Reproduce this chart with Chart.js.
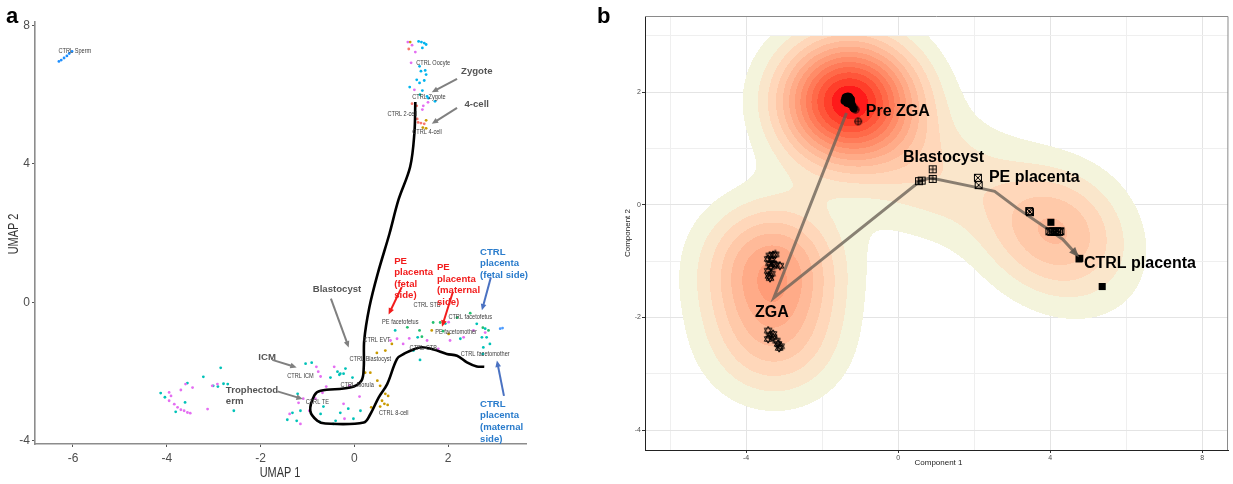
<!DOCTYPE html>
<html>
<head>
<meta charset="utf-8">
<script src="https://cdn.jsdelivr.net/npm/chart.js@4.4.0/dist/chart.umd.min.js"></script>
<style>
  body { margin:0; background:#fff; width:1233px; height:484px; overflow:hidden; position:relative; }
  #ca { position:absolute; left:0; top:0; }
  #cb { position:absolute; left:595px; top:0; }
  .tag { position:absolute; font:bold 22px 'Liberation Sans', Arial, sans-serif; line-height:22px; color:#000; }
</style>
</head>
<body>
<canvas id="ca" width="600" height="484"></canvas>
<canvas id="cb" width="638" height="484"></canvas>
<div class="tag" style="left:6px;top:5px">a</div>
<div class="tag" style="left:597px;top:5px">b</div>
<script>
// ---------- panel a : UMAP ----------
const xTicksA = [-6, -4, -2, 0, 2];
const yTicksA = [-4, 0, 4, 8];

const spermPts = [[-6.30,6.96],[-6.25,7.00],[-6.19,7.06],[-6.13,7.12],[-6.08,7.19],[-6.02,7.25]];
const cyanPts = [[1.37,7.54],[1.43,7.52],[1.49,7.49],[1.53,7.45],[1.45,7.35],[1.39,6.82],[1.42,6.68],[1.51,6.70],
  [1.53,6.58],[1.33,6.43],[1.39,6.34],[1.49,6.41],[1.18,6.22],[1.55,5.95],[1.58,5.90],[1.72,5.81],[1.45,6.12]];
const magentaPts = [[1.14,7.52],[1.23,7.43],[1.30,7.23],[1.21,6.92],[1.28,6.14],[1.47,5.68],[1.57,5.78],[1.45,5.57],
  [-3.95,-2.60],[-3.91,-2.70],[-3.95,-2.84],[-3.84,-2.94],[-3.77,-3.03],[-3.70,-3.10],[-3.63,-3.13],[-3.56,-3.18],
  [-3.50,-3.20],[-3.70,-2.53],[-3.60,-2.36],[-3.45,-2.46],[-3.13,-3.08],[-3.03,-2.41],[-2.92,-2.36],
  [-0.77,-2.00],[-0.72,-2.14],[-0.43,-1.86],[-0.60,-2.43],[-0.83,-2.78],[-1.09,-2.78],[-1.19,-2.90],[-1.38,-3.22],
  [-1.15,-3.51],[-0.96,-3.13],[-0.21,-3.36],[-0.68,-2.61],[0.11,-2.72],[-0.11,-2.41],[-0.23,-2.93],[-0.81,-1.86],
  [0.91,-1.05],[1.04,-1.20],[1.55,-1.10],[2.01,-0.57],[2.04,-1.10],[2.33,-1.01],[1.79,-1.34],[2.54,-0.81],
  [2.79,-0.87],[0.77,-1.10],[1.17,-1.04]];
const salmonPts = [[1.16,7.32],[1.23,5.74],[1.33,5.68],[1.36,5.20],[1.42,5.18],[1.49,5.16],[1.34,5.30]];
const goldPts = [[1.19,7.52],[1.53,5.26],[1.46,5.05],[1.53,5.03],
  [0.49,-2.26],[0.55,-2.41],[0.66,-2.64],[0.72,-2.70],[0.59,-2.84],[0.64,-2.93],[0.71,-2.96],[0.55,-3.01],
  [0.36,-3.03],[0.34,-2.03],[0.23,-2.03],[0.80,-1.20],[0.66,-1.39],[1.65,-0.81],[2.01,-0.91],[0.48,-1.46]];
const tealPts = [[-4.13,-2.62],[-4.04,-2.74],[-3.61,-2.89],[-3.22,-2.15],[-2.85,-1.89],[-2.79,-2.35],[-2.57,-3.13],
  [-3.56,-2.33],[-2.91,-2.43],[-3.01,-2.41],[-2.70,-2.36],[-3.81,-3.16],
  [-1.04,-1.77],[-0.91,-1.74],[-0.36,-2.00],[-0.32,-2.09],[-0.04,-2.17],[-0.19,-1.91],[-1.21,-2.64],[-0.51,-2.17],
  [-1.15,-3.13],[-1.32,-3.19],[-1.43,-3.39],[-1.23,-3.42],[-0.30,-3.19],[-0.13,-3.07],[-0.02,-3.36],[-0.74,-3.45],
  [-0.40,-3.42],[-0.66,-3.01],[-0.72,-3.22],[-0.45,-3.51],[0.13,-3.13],[-0.23,-2.06],[-0.30,-2.06],
  [1.26,-1.39],[1.40,-1.66],[1.35,-1.01],[2.61,-0.62],[2.72,-1.01],[2.26,-1.05],[2.75,-1.30],[2.89,-1.20],
  [2.82,-1.01],[2.79,-0.76],[2.74,-1.49],[1.94,-0.61],[0.87,-0.81],[1.40,6.00]];
const greenPts = [[1.39,-0.81],[1.44,-0.99],[1.89,-0.83],[2.19,-0.44],[2.47,-0.31],[2.74,-0.73],[2.86,-0.81],
  [1.13,-0.72],[1.68,-0.58],[1.83,-0.58]];
const bluePts = [[3.11,-0.76],[3.16,-0.74]];

const trajA = [[1.30,5.79],[1.28,4.89],[1.19,3.92],[0.94,2.96],[0.75,1.99],[0.50,0.84],[0.32,-0.14],[0.21,-1.10],
  [0.20,-1.88],[0.15,-2.26],[-0.09,-2.46],[-0.72,-2.55],[-0.85,-2.68],[-0.94,-3.13],[-0.79,-3.42],[-0.62,-3.50],
  [0.20,-3.47],[0.34,-3.23],[0.52,-2.74],[0.70,-2.36],[0.91,-1.63],[1.05,-1.49],[1.40,-1.30],[1.69,-1.36],
  [1.97,-1.49],[2.19,-1.54],[2.40,-1.73],[2.61,-1.85],[2.77,-1.86]];

const cellLabelsA = [
  ['CTRL Sperm',-5.96,7.28],['CTRL Oocyte',1.68,6.93],['CTRL Zygote',1.59,5.95],['CTRL 2-cell',1.02,5.45],
  ['CTRL 4-cell',1.55,4.93],['CTRL ICM',-1.15,-2.12],['CTRL Blastocyst',0.34,-1.63],['CTRL Morula',0.06,-2.38],
  ['CTRL TE',-0.79,-2.86],['CTRL 8-cell',0.84,-3.18],['CTRL EVT',0.48,-1.08],['PE facetofetus',0.98,-0.57],
  ['CTRL STB',1.55,-0.06],['CTRL facetofetus',2.47,-0.43],['PE facetomother',2.17,-0.86],['CTRL CTB',1.47,-1.31],
  ['CTRL facetomother',2.79,-1.49]];
// annotation: lines of text, anchor x, first-line y, arrow from/to, colours
const notesA = [
  {lines:['Zygote'], x:2.61, y:6.68, c:true, a:[2.19,6.46,1.65,6.07], col:'#555555', ac:'#808080'},
  {lines:['4-cell'], x:2.61, y:5.73, c:true, a:[2.19,5.62,1.65,5.16], col:'#555555', ac:'#808080'},
  {lines:['Blastocyst'], x:-0.37, y:0.38, c:true, a:[-0.50,0.11,-0.12,-1.30], col:'#555555', ac:'#808080'},
  {lines:['ICM'], x:-1.86, y:-1.60, c:true, a:[-1.75,-1.66,-1.23,-1.88], col:'#555555', ac:'#808080'},
  {lines:['Trophectod','erm'], x:-2.74, y:-2.53, a:[-1.64,-2.57,-1.10,-2.79], col:'#555555', ac:'#808080'},
  {lines:['PE','placenta','(fetal','side)'], x:0.85, y:1.20, a:[1.01,0.44,0.73,-0.35], col:'#f21c1c', ac:'#f21c1c'},
  {lines:['PE','placenta','(maternal','side)'], x:1.76, y:1.01, a:[2.10,0.30,1.87,-0.70], col:'#f21c1c', ac:'#f21c1c'},
  {lines:['CTRL','placenta','(fetal side)'], x:2.68, y:1.46, a:[2.91,0.72,2.72,-0.23], col:'#2a7ccc', ac:'#4a72c2'},
  {lines:['CTRL','placenta','(maternal','side)'], x:2.68, y:-2.94, a:[3.19,-2.70,3.04,-1.68], col:'#2a7ccc', ac:'#4a72c2'}];

// ---------- panel b : trajectory ----------
const xTicksB = [-6, -4, -2, 0, 2, 4, 6, 8];
const yTicksB = [-4, -3, -2, -1, 0, 1, 2, 3];
const preZgaPts = [[-1.40,1.88],[-1.36,1.92],[-1.32,1.93],[-1.28,1.92],[-1.25,1.89],[-1.42,1.84],[-1.38,1.85],
  [-1.33,1.87],[-1.29,1.86],[-1.24,1.84],[-1.35,1.80],[-1.30,1.81],[-1.22,1.80],[-1.20,1.76],[-1.27,1.83],
  [-1.31,1.89],[-1.37,1.90],[-1.23,1.87],[-1.19,1.72],[-1.16,1.70],[-1.34,1.84],[-1.26,1.78],
  [-1.39,1.91],[-1.33,1.90],[-1.29,1.89],[-1.36,1.87],[-1.31,1.84],[-1.27,1.87]];
const preZgaPlusPts = [[-1.17,1.73],[-1.12,1.69],[-1.05,1.48]];
const zgaPts = [[-3.38,-0.90],[-3.29,-0.89],[-3.23,-0.88],[-3.42,-0.96],[-3.32,-0.98],[-3.39,-1.04],[-3.29,-1.05],
  [-3.35,-1.10],[-3.11,-1.08],[-3.22,-1.06],[-3.42,-1.17],[-3.33,-1.22],[-3.40,-1.26],[-3.37,-1.30],
  [-3.42,-2.23],[-3.38,-2.32],[-3.29,-2.35],[-3.42,-2.38],[-3.20,-2.41],[-3.16,-2.47],[-3.09,-2.51],
  [-3.13,-2.54],[-3.29,-2.29]];
const blastPts = [[0.55,0.42],[0.62,0.43],[0.91,0.63],[0.91,0.46]];
const pePts = [[2.10,0.48],[2.12,0.35],[3.45,-0.11],[3.47,-0.13],[3.98,-0.47],[4.03,-0.48],[4.08,-0.47],
  [4.13,-0.48],[4.18,-0.47],[4.23,-0.48],[4.27,-0.47]];
const ctrlPts = [[4.02,-0.31],[4.76,-0.96],[4.78,-0.95],[5.37,-1.45]];
const trajB = [[-1.36,1.63],[-3.27,-1.65],[0.58,0.42],[0.84,0.48],[2.06,0.31],[2.54,0.24],[3.11,-0.05],[4.33,-0.61],[4.76,-0.93]];
const stageLabelsB = [['Pre ZGA',-0.85,1.66],['Blastocyst',0.13,0.84],['PE placenta',2.39,0.48],['CTRL placenta',4.89,-1.04],['ZGA',-3.32,-1.91,'c']];

const FAM = "'Liberation Sans', Arial, sans-serif";
const NARROW = "'Liberation Sans Narrow', 'Liberation Sans', Arial, sans-serif";
const xy = a => a.map(([x, y]) => ({x, y}));

function condText(ctx, txt, x, y, size, k, align, color, weight) {
  ctx.save();
  ctx.font = (weight || 'normal') + ' ' + size + 'px ' + FAM;
  ctx.fillStyle = color;
  ctx.textBaseline = 'middle';
  ctx.textAlign = 'left';
  const w = ctx.measureText(txt).width * k;
  const x0 = align === 'center' ? x - w / 2 : align === 'right' ? x - w : x;
  ctx.translate(x0, y);
  ctx.scale(k, 1);
  ctx.fillText(txt, 0, 0);
  ctx.restore();
}
function arrow(ctx, x1, y1, x2, y2, color, w, head) {
  const a = Math.atan2(y2 - y1, x2 - x1);
  ctx.save();
  ctx.strokeStyle = color; ctx.fillStyle = color; ctx.lineWidth = w;
  ctx.beginPath(); ctx.moveTo(x1, y1);
  ctx.lineTo(x2 - Math.cos(a) * head * 0.8, y2 - Math.sin(a) * head * 0.8); ctx.stroke();
  ctx.beginPath(); ctx.moveTo(x2, y2);
  ctx.lineTo(x2 - head * Math.cos(a - 0.42), y2 - head * Math.sin(a - 0.42));
  ctx.lineTo(x2 - head * Math.cos(a + 0.42), y2 - head * Math.sin(a + 0.42));
  ctx.closePath(); ctx.fill();
  ctx.restore();
}

const umapDecor = {
  id: 'umapDecor',
  afterDatasetsDraw(chart) {
    const {ctx, scales: {x, y}} = chart;
    const px = v => x.getPixelForValue(v), py = v => y.getPixelForValue(v);
    cellLabelsA.forEach(([t, a, b]) => condText(ctx, t, px(a), py(b), 8, 0.7, 'center', '#3c3c3c'));
    notesA.forEach(n => {
      n.lines.forEach((t, i) => condText(ctx, t, px(n.x), py(n.y) + i * 11.6, 9.6, 1, n.c ? 'center' : 'left', n.col, 'bold'));
      arrow(ctx, px(n.a[0]), py(n.a[1]), px(n.a[2]), py(n.a[3]), n.ac, 2, 7);
    });
  },
  afterDraw(chart) {
    const {ctx} = chart;
    condText(ctx, 'UMAP 1', 280, 473, 14, 0.78, 'center', '#333');
    ctx.save(); ctx.translate(14, 234); ctx.rotate(-Math.PI / 2);
    condText(ctx, 'UMAP 2', 0, 0, 14, 0.78, 'center', '#333');
    ctx.restore();
  }
};

function pts(data, color) {
  return {data: xy(data), backgroundColor: color, borderWidth: 0, pointRadius: 1.4, pointStyle: 'circle'};
}

new Chart(document.getElementById('ca'), {
  type: 'scatter',
  data: {datasets: [
    {data: xy(trajA), showLine: true, borderColor: '#000', borderWidth: 2.6, pointRadius: 0, tension: 0.35},
    pts(spermPts, '#1e8fff'), pts(cyanPts, '#00b4ee'), pts(magentaPts, '#e46ef2'), pts(salmonPts, '#f8766d'),
    pts(goldPts, '#c99a00'), pts(tealPts, '#00c2b8'), pts(greenPts, '#22bf6e'), pts(bluePts, '#4d9cff')
  ]},
  options: {
    responsive: false, animation: false, events: [],
    layout: {padding: {left: 0, top: 22, right: 74, bottom: 0}},
    plugins: {legend: {display: false}, tooltip: {enabled: false}},
    scales: {
      x: {type: 'linear', min: -6.81, max: 3.66,
        afterBuildTicks: s => { s.ticks = xTicksA.map(v => ({value: v})); },
        afterFit: s => { s.height = 40; },
        grid: {drawOnChartArea: false, tickLength: 3, color: '#555'},
        border: {color: '#8c8c8c', width: 1.6},
        ticks: {color: '#4d4d4d', font: {size: 12, family: NARROW}, padding: 4, maxRotation: 0}},
      y: {type: 'linear', min: -4.09, max: 8.1,
        afterBuildTicks: s => { s.ticks = yTicksA.map(v => ({value: v})); },
        afterFit: s => { s.width = 35; },
        grid: {drawOnChartArea: false, tickLength: 3, color: '#555'},
        border: {color: '#8c8c8c', width: 1.6},
        ticks: {color: '#4d4d4d', font: {size: 12, family: NARROW}, padding: 2}}
    }
  },
  plugins: [umapDecor]
});

// ---------- density colours (beige -> red, Lab interpolation) ----------
function hexToLab(hex) {
  const c = [1, 3, 5].map(i => parseInt(hex.substr(i, 2), 16) / 255)
    .map(v => v <= 0.04045 ? v / 12.92 : Math.pow((v + 0.055) / 1.055, 2.4));
  const X = (0.4124 * c[0] + 0.3576 * c[1] + 0.1805 * c[2]) / 0.95047;
  const Y = 0.2126 * c[0] + 0.7152 * c[1] + 0.0722 * c[2];
  const Z = (0.0193 * c[0] + 0.1192 * c[1] + 0.9505 * c[2]) / 1.08883;
  const f = t => t > 0.008856 ? Math.cbrt(t) : 7.787 * t + 16 / 116;
  return [116 * f(Y) - 16, 500 * (f(X) - f(Y)), 200 * (f(Y) - f(Z))];
}
function labToRgb([L, A, B]) {
  const fy = (L + 16) / 116, fx = fy + A / 500, fz = fy - B / 200;
  const fi = t => t * t * t > 0.008856 ? t * t * t : (t - 16 / 116) / 7.787;
  const X = 0.95047 * fi(fx), Y = fi(fy), Z = 1.08883 * fi(fz);
  return [3.2406 * X - 1.5372 * Y - 0.4986 * Z, -0.9689 * X + 1.8758 * Y + 0.0415 * Z, 0.0557 * X - 0.2040 * Y + 1.0570 * Z]
    .map(v => v <= 0.0031308 ? 12.92 * v : 1.055 * Math.pow(v, 1 / 2.4) - 0.055)
    .map(v => Math.round(Math.max(0, Math.min(1, v)) * 255));
}
const N_BINS = 14;
const labLo = hexToLab('#f4f4dc'), labHi = hexToLab('#ff1a1a');
const bandColours = [];
for (let k = 0; k < N_BINS - 1; k++) {
  const t = k / (N_BINS - 2);
  bandColours.push(labToRgb(labLo.map((v, i) => v + (labHi[i] - v) * t)));
}

const densityLayer = {
  id: 'densityLayer',
  beforeDatasetsDraw(chart) {
    const {ctx, chartArea: a, scales: {x, y}} = chart;
    const W = Math.round(a.right - a.left), H = Math.round(a.bottom - a.top);
    const all = [].concat(preZgaPts, preZgaPlusPts, zgaPts, blastPts, pePts, ctrlPts);
    const hx = 1.22, hy = 0.75, yCut = 3.0;
    const n = all.length;
    const gx = new Float32Array(n * W), gy = new Float32Array(n * H);
    for (let c = 0; c < W; c++) {
      const xv = x.getValueForPixel(a.left + c + 0.5);
      for (let i = 0; i < n; i++) gx[i * W + c] = Math.exp(-0.5 * Math.pow((xv - all[i][0]) / hx, 2));
    }
    for (let r = 0; r < H; r++) {
      const yv = y.getValueForPixel(a.top + r + 0.5);
      for (let i = 0; i < n; i++) gy[i * H + r] = yv > yCut ? 0 : Math.exp(-0.5 * Math.pow((yv - all[i][1]) / hy, 2));
    }
    const d = new Float32Array(W * H);
    let max = 0;
    for (let r = 0; r < H; r++) for (let c = 0; c < W; c++) {
      let s = 0;
      for (let i = 0; i < n; i++) s += gx[i * W + c] * gy[i * H + r];
      d[r * W + c] = s; if (s > max) max = s;
    }
    const off = document.createElement('canvas'); off.width = W; off.height = H;
    const octx = off.getContext('2d');
    const img = octx.createImageData(W, H);
    for (let p = 0; p < W * H; p++) {
      const k = Math.min(N_BINS - 1, Math.floor(d[p] / max * N_BINS));
      if (k < 1) continue;
      const col = bandColours[k - 1];
      img.data[p * 4] = col[0]; img.data[p * 4 + 1] = col[1]; img.data[p * 4 + 2] = col[2]; img.data[p * 4 + 3] = 255;
    }
    octx.putImageData(img, 0, 0);
    ctx.drawImage(off, a.left, a.top);
  }
};

const trajDecor = {
  id: 'trajDecor',
  afterDatasetsDraw(chart) {
    const {ctx, chartArea: a, scales: {x, y}} = chart;
    const m = trajB.length;
    const p1 = [x.getPixelForValue(trajB[m - 2][0]), y.getPixelForValue(trajB[m - 2][1])];
    const p2 = [x.getPixelForValue(trajB[m - 1][0]), y.getPixelForValue(trajB[m - 1][1])];
    const ang = Math.atan2(p2[1] - p1[1], p2[0] - p1[0]);
    ctx.save(); ctx.fillStyle = 'rgba(95,88,80,0.9)';
    ctx.beginPath(); ctx.moveTo(p2[0], p2[1]);
    ctx.lineTo(p2[0] - 11 * Math.cos(ang - 0.38), p2[1] - 11 * Math.sin(ang - 0.38));
    ctx.lineTo(p2[0] - 11 * Math.cos(ang + 0.38), p2[1] - 11 * Math.sin(ang + 0.38));
    ctx.closePath(); ctx.fill(); ctx.restore();
    stageLabelsB.forEach(([t, a1, b1, al]) =>
      condText(ctx, t, x.getPixelForValue(a1), y.getPixelForValue(b1), 16, 1, al === 'c' ? 'center' : 'left', '#000', 'bold'));
    ctx.save(); ctx.strokeStyle = '#8a8a8a'; ctx.lineWidth = 1;
    ctx.beginPath(); ctx.moveTo(a.left, a.top + 0.5); ctx.lineTo(a.right, a.top + 0.5); ctx.lineTo(a.right - 0.5, a.bottom); ctx.stroke();
    ctx.restore();
  },
  afterDraw(chart) {
    const {ctx} = chart;
    condText(ctx, 'Component 1', 343.5, 463, 8, 1, 'center', '#222');
    ctx.save(); ctx.translate(33, 233); ctx.rotate(-Math.PI / 2);
    condText(ctx, 'Component 2', 0, 0, 8, 1, 'center', '#222');
    ctx.restore();
  }
};

function marker(draw) {
  const c = document.createElement('canvas'); c.width = 10; c.height = 10;
  const g = c.getContext('2d'); g.strokeStyle = '#000'; g.lineWidth = 1; draw(g); return c;
}
const mCirclePlus = marker(g => { g.beginPath(); g.arc(5, 5, 3.4, 0, 7); g.stroke();
  g.beginPath(); g.moveTo(5, 1.6); g.lineTo(5, 8.4); g.moveTo(1.6, 5); g.lineTo(8.4, 5); g.stroke(); });
const mStar = marker(g => { g.beginPath(); g.moveTo(5, 0.8); g.lineTo(8.8, 7.2); g.lineTo(1.2, 7.2); g.closePath();
  g.moveTo(5, 9.2); g.lineTo(8.8, 2.8); g.lineTo(1.2, 2.8); g.closePath(); g.stroke(); });
const mSqPlus = marker(g => { g.strokeRect(1.5, 1.5, 7, 7);
  g.beginPath(); g.moveTo(5, 1.5); g.lineTo(5, 8.5); g.moveTo(1.5, 5); g.lineTo(8.5, 5); g.stroke(); });
const mSqX = marker(g => { g.strokeRect(1.5, 1.5, 7, 7);
  g.beginPath(); g.moveTo(1.5, 1.5); g.lineTo(8.5, 8.5); g.moveTo(8.5, 1.5); g.lineTo(1.5, 8.5); g.stroke(); });

function mk(data, style, r) {
  return {data: xy(data), pointStyle: style, pointRadius: r, backgroundColor: '#000', borderColor: '#000', borderWidth: 0};
}
const gridCol = (major) => c => (c.tick && major(c.tick.value)) ? '#e4e4e4' : '#efefef';
const tickCol = (major) => c => (c.tick && major(c.tick.value)) ? '#333' : 'rgba(0,0,0,0)';
const majX = v => Math.abs(v % 4) < 1e-9, majY = v => Math.abs(v % 2) < 1e-9;

new Chart(document.getElementById('cb'), {
  type: 'scatter',
  data: {datasets: [
    mk(preZgaPts, 'circle', 3.6), mk(preZgaPlusPts, mCirclePlus, 5), mk(zgaPts, mStar, 5),
    mk(blastPts, mSqPlus, 5), mk(pePts, mSqX, 5), mk(ctrlPts, 'rect', 5),
    {data: xy(trajB), showLine: true, borderColor: 'rgba(105,96,86,0.78)', borderWidth: 3, pointRadius: 0, tension: 0}
  ]},
  options: {
    responsive: false, animation: false, events: [],
    layout: {padding: {left: 0, top: 16, right: 1, bottom: 0}},
    plugins: {legend: {display: false}, tooltip: {enabled: false}},
    scales: {
      x: {type: 'linear', min: -6.66, max: 8.68,
        afterBuildTicks: s => { s.ticks = xTicksB.map(v => ({value: v})); },
        afterFit: s => { s.height = 34; },
        grid: {color: gridCol(majX), tickColor: tickCol(majX), tickLength: 3, lineWidth: 1},
        border: {color: '#222', width: 1},
        ticks: {color: '#4d4d4d', font: {size: 7, family: FAM}, padding: 1, maxRotation: 0, autoSkip: false,
          callback: v => majX(v) ? String(v) : ''}},
      y: {type: 'linear', min: -4.35, max: 3.35,
        afterBuildTicks: s => { s.ticks = yTicksB.map(v => ({value: v})); },
        afterFit: s => { s.width = 50; },
        grid: {color: gridCol(majY), tickColor: tickCol(majY), tickLength: 3, lineWidth: 1},
        border: {color: '#222', width: 1},
        ticks: {color: '#4d4d4d', font: {size: 7, family: FAM}, padding: 1, autoSkip: false,
          callback: v => majY(v) ? String(v) : ''}}
    }
  },
  plugins: [densityLayer, trajDecor]
});
</script>
</body>
</html>
